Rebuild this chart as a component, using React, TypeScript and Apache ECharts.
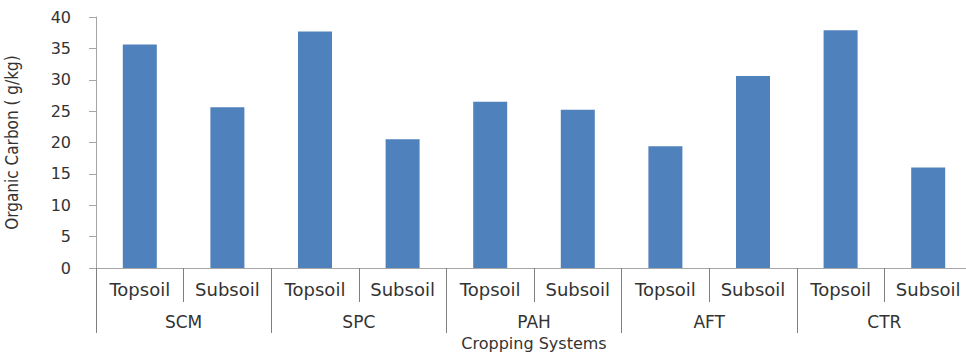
import React, { useEffect, useRef } from "react";
import * as echarts from "echarts";

const groups = ["SCM", "SPC", "PAH", "AFT", "CTR"];
const layers = ["Topsoil", "Subsoil"];
const topsoil = [35.6, 37.7, 26.5, 19.4, 37.9];
const subsoil = [25.6, 20.5, 25.2, 30.6, 16.0];
const yTicks = { min: 0, max: 40, interval: 5 };

export default function App() {
  const ref = useRef<HTMLDivElement>(null);
  useEffect(() => {
    if (!ref.current) return;
    const chart = echarts.init(ref.current, null, { renderer: "svg" });
    const cats: string[] = [];
    const vals: number[] = [];
    groups.forEach((g, i) => {
      cats.push(layers[0]);
      vals.push(topsoil[i]);
      cats.push(layers[1]);
      vals.push(subsoil[i]);
    });
    const textColor = "#333";
    chart.setOption({
      animation: false,
      backgroundColor: "#fff",
      grid: {
        left: 96,
        top: 17,
        height: 251,
        width: 876,
        containLabel: false,
        outerBoundsMode: "none",
      },
      xAxis: [
        {
          type: "category",
          data: cats,
          gridIndex: 0,
          position: "bottom",
          axisLine: { show: true, lineStyle: { color: "#a6a6a6", width: 1 } },
          axisTick: { show: true, length: 34, interval: 0, lineStyle: { color: "#7f7f7f" } },
          axisLabel: {
            interval: 0,
            margin: 12,
            fontSize: 18,
            fontFamily: "DejaVu Sans",
            color: textColor,
          },
          splitLine: { show: false },
        },
        {
          type: "category",
          data: groups,
          gridIndex: 0,
          position: "bottom",
          axisLine: { show: false },
          axisTick: { show: true, length: 65, interval: 0, lineStyle: { color: "#7f7f7f" } },
          axisLabel: {
            interval: 0,
            margin: 45,
            fontSize: 17,
            fontFamily: "DejaVu Sans",
            color: textColor,
          },
          name: "Cropping Systems",
          nameLocation: "middle",
          nameGap: 67,
          nameTextStyle: { fontSize: 16, fontFamily: "DejaVu Sans", color: textColor },
          splitLine: { show: false },
        },
      ],
      yAxis: {
        type: "value",
        min: yTicks.min,
        max: yTicks.max,
        interval: yTicks.interval,
        axisLine: { show: true, lineStyle: { color: "#a6a6a6", width: 1 } },
        axisTick: { show: true, length: 7, lineStyle: { color: "#a6a6a6" } },
        axisLabel: { margin: 25, fontSize: 16, fontFamily: "DejaVu Sans", color: textColor },
        splitLine: { show: false },
        name: "Organic Carbon ( g/kg)",
        nameLocation: "middle",
        nameRotate: 90,
        nameGap: 76,
        nameTextStyle: {
          fontSize: 17,
          fontFamily: "'Liberation Sans Narrow', 'DejaVu Sans Condensed', 'Liberation Sans', sans-serif",
          color: textColor,
        },
      },
      series: [
        {
          type: "bar",
          xAxisIndex: 0,
          data: vals,
          barWidth: 34,
          itemStyle: { color: "#4F81BD" },
        },
      ],
    });
    return () => chart.dispose();
  }, []);
  return (
    <div
      ref={ref}
      style={{ position: "absolute", left: 0, top: 0, width: 966, height: 356 }}
    />
  );
}
